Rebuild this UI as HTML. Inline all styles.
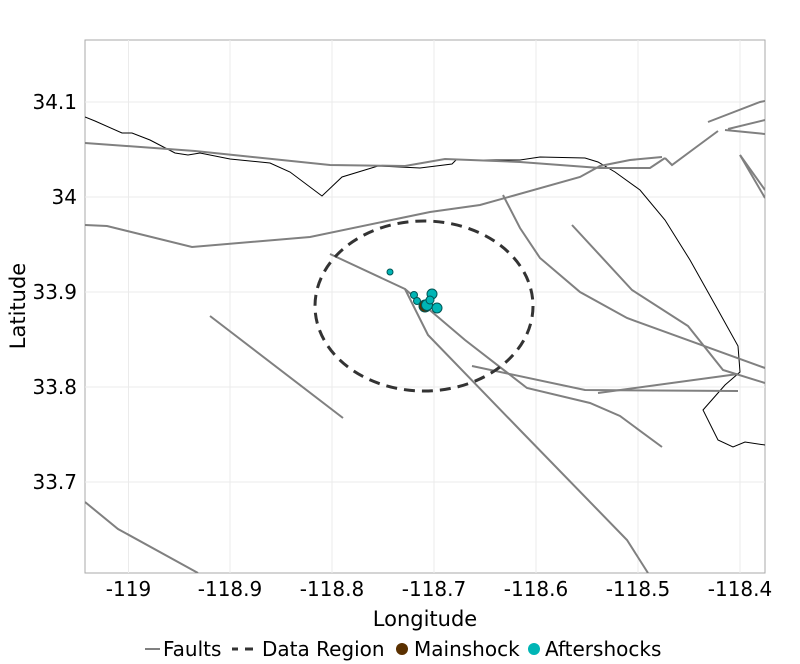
<!DOCTYPE html><html><head><style>body{margin:0;background:#fff}svg{display:block;font-family:"DejaVu Sans","Liberation Sans",sans-serif}</style></head><body>
<svg width="800" height="664" xmlns="http://www.w3.org/2000/svg">
<rect x="85" y="40" width="680" height="533" fill="#fff" stroke="#aaa"/>
<g stroke="#ebebeb" stroke-width="1">
<line x1="128.5" y1="40" x2="128.5" y2="573"/><line x1="230" y1="40" x2="230" y2="573"/><line x1="332" y1="40" x2="332" y2="573"/><line x1="434" y1="40" x2="434" y2="573"/><line x1="536" y1="40" x2="536" y2="573"/><line x1="638" y1="40" x2="638" y2="573"/><line x1="740" y1="40" x2="740" y2="573"/>
<line x1="85" y1="102" x2="765" y2="102"/><line x1="85" y1="197" x2="765" y2="197"/><line x1="85" y1="292" x2="765" y2="292"/><line x1="85" y1="387" x2="765" y2="387"/><line x1="85" y1="482" x2="765" y2="482"/>
</g>
<clipPath id="c"><rect x="85" y="40" width="680" height="533"/></clipPath>
<g clip-path="url(#c)">
<polyline fill="none" stroke="#000" stroke-width="1" points="85,117 95,121 122,133 132,133 150,140 175,153 188,155 200,153 230,159 270,163 290,172 322,196 342,177 378,166 400,167 420,168 452,164 456,160 520,160 540,157 585,158 598,162 615,172 640,190 665,220 690,260 718,310 738,346 740,372 725,385 703,410 718,440 733,447 745,442 765,445"/>
<g fill="none" stroke="#808080" stroke-width="2">
<polyline points="85,143 195,151 330,165 405,166 445,159 520,162 600,168 650,168 665,158"/>
<polyline points="85,225 107,226 192,247 310,237 430,212 480,205 580,177 600,166 630,160 662,157"/>
<polyline points="665,158 672,165 695,148 718,131"/>
<polyline points="708,122 760,102 765,101"/>
<polyline points="728,129 765,120"/>
<polyline points="725,130 765,134"/>
<polyline points="740,155 765,190"/>
<polyline points="740,155 765,198"/>
<polyline points="330,254 405,289 428,335 520,430 627,540 648,573"/>
<polyline points="405,289 465,340 527,388 590,403 620,416 662,447"/>
<polyline points="503,195 520,228 540,258 580,292 627,318 765,368"/>
<polyline points="572,225 632,290 688,326 723,370 765,383"/>
<polyline points="472,366 585,390 738,391"/>
<polyline points="598,393 738,374"/>
<polyline points="210,316 343,418"/>
<polyline points="85,502 118,529 198,573"/>
</g>
<ellipse cx="424" cy="306" rx="109" ry="85" fill="none" stroke="#333" stroke-width="3" stroke-dasharray="11,7"/>
<g stroke="#055" stroke-width="1" fill="#00b5b5">
<circle cx="390" cy="272" r="3"/><circle cx="414" cy="295" r="3.5"/><circle cx="417" cy="301" r="3.5"/>
<circle cx="425" cy="306" r="6" fill="#5a3000"/>
<circle cx="427" cy="305" r="5.5"/><circle cx="432" cy="294" r="5"/><circle cx="430" cy="300" r="4"/><circle cx="437" cy="308" r="5"/>
</g>
</g>
<g font-size="20" fill="#000" text-anchor="end">
<text x="77" y="109">34.1</text><text x="77" y="204">34</text><text x="77" y="299">33.9</text><text x="77" y="394">33.8</text><text x="77" y="489">33.7</text>
</g>
<g font-size="20" fill="#000" text-anchor="middle">
<text x="128.5" y="596">-119</text><text x="230" y="596">-118.9</text><text x="332" y="596">-118.8</text><text x="434" y="596">-118.7</text><text x="536" y="596">-118.6</text><text x="638" y="596">-118.5</text><text x="740" y="596">-118.4</text>
<text x="425" y="626" font-size="21">Longitude</text>
</g>
<text transform="translate(25,306) rotate(-90)" font-size="21" text-anchor="middle">Latitude</text>
<g font-size="20">
<line x1="145" y1="649" x2="160" y2="649" stroke="#808080" stroke-width="2"/>
<text x="163" y="656">Faults</text>
<line x1="232" y1="649" x2="238" y2="649" stroke="#333" stroke-width="3"/><line x1="245" y1="649" x2="253" y2="649" stroke="#333" stroke-width="3"/>
<text x="262" y="656">Data Region</text>
<circle cx="402" cy="649" r="6" fill="#5a3000"/>
<text x="414" y="656">Mainshock</text>
<circle cx="534" cy="649" r="6" fill="#00b5b5"/>
<text x="545" y="656">Aftershocks</text>
</g>
</svg></body></html>
